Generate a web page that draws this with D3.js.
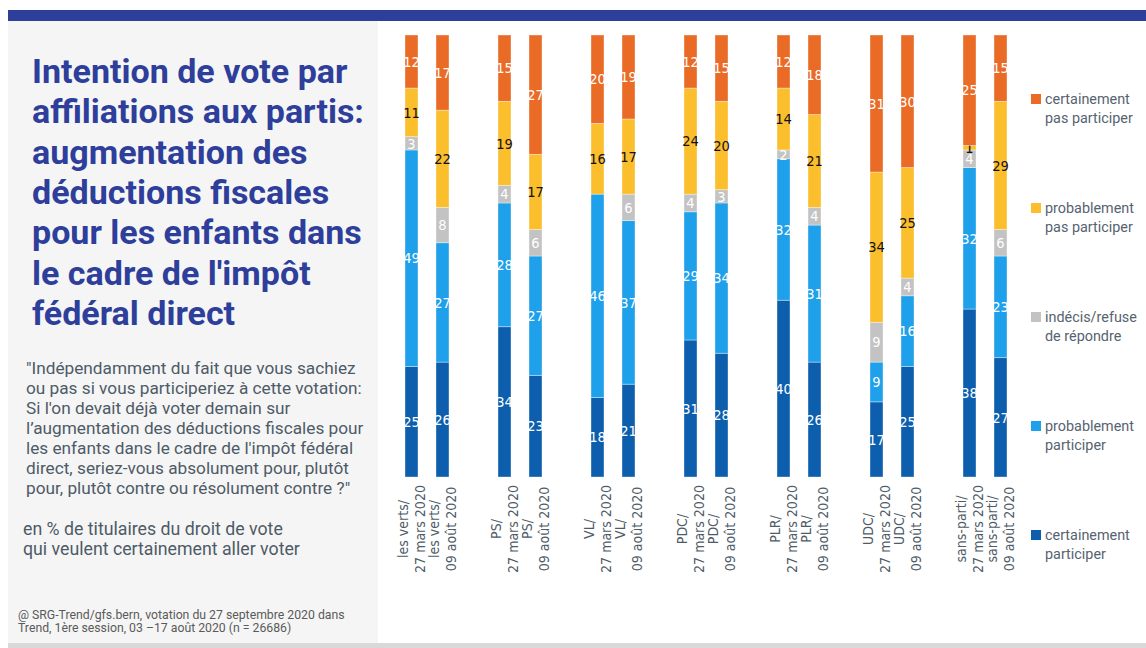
<!DOCTYPE html>
<html lang="fr">
<head>
<meta charset="utf-8">
<script src="https://cdn.jsdelivr.net/npm/d3@7"></script>
<style>
  html, body { margin: 0; padding: 0; background: #ffffff; }
  svg { display: block; }
</style>
</head>
<body>
<svg id="chart" width="1146" height="648"></svg>
<script>
// Parties and survey waves
const parties = ["les verts", "PS", "VL", "PDC", "PLR", "UDC", "sans-parti"];
const waves = ["27 mars 2020", "09 août 2020"];

// Shares in %, ordered party by party, wave by wave
const certainementParticiper = [25, 26, 34, 23, 18, 21, 31, 28, 40, 26, 17, 25, 38, 27];
const probablementParticiper = [49, 27, 28, 27, 46, 37, 29, 34, 32, 31, 9, 16, 32, 23];
const indecis              = [3, 8, 4, 6, 0, 6, 4, 3, 2, 4, 9, 4, 4, 6];
const probablementPas      = [11, 22, 19, 17, 16, 17, 24, 20, 14, 21, 34, 25, 1, 29];
const certainementPas      = [12, 17, 15, 27, 20, 19, 12, 15, 12, 18, 31, 30, 25, 15];

// Series, bottom to top of each stack
const series = [
  { key: "cp",  label: ["certainement", "participer"],      color: "#0d5fae", text: "#ffffff", values: certainementParticiper },
  { key: "pp",  label: ["probablement", "participer"],      color: "#1ea0ea", text: "#ffffff", values: probablementParticiper },
  { key: "ind", label: ["indécis/refuse", "de répondre"],   color: "#c3c3c3", text: "#ffffff", values: indecis },
  { key: "ppp", label: ["probablement", "pas participer"],  color: "#fbbe2c", text: "#111111", values: probablementPas },
  { key: "cpp", label: ["certainement", "pas participer"],  color: "#e96b25", text: "#ffffff", values: certainementPas }
];

const titleLines = [
  "Intention de vote par",
  "affiliations aux partis:",
  "augmentation des",
  "déductions fiscales",
  "pour les enfants dans",
  "le cadre de l'impôt",
  "fédéral direct"
];
const questionLines = [
  "\"Indépendamment du fait que vous sachiez",
  "ou pas si vous participeriez à cette votation:",
  "Si l'on devait déjà voter demain sur",
  "l’augmentation des déductions fiscales pour",
  "les enfants dans le cadre de l'impôt fédéral",
  "direct, seriez-vous absolument pour, plutôt",
  "pour, plutôt contre ou résolument contre ?\""
];
const baseLines = [
  "en % de titulaires du droit de vote",
  "qui veulent certainement aller voter"
];
const sourceLines = [
  "@ SRG-Trend/gfs.bern, votation du 27 septembre 2020 dans",
  "Trend, 1ère session, 03 –17 août 2020 (n = 26686)"
];

// Build one row per bar
const rows = [];
parties.forEach((p, i) => {
  waves.forEach((w, j) => {
    const k = i * waves.length + j;
    const r = { party: p, wave: w };
    series.forEach(s => { r[s.key] = s.values[k]; });
    rows.push(r);
  });
});

const svg = d3.select("#chart");
const W = 1146, H = 648;
const BLUE = "#2e3e9b";
const SANS = "Roboto, 'Open Sans', 'Noto Sans', sans-serif";
const NARROW = "'Liberation Sans Narrow', 'DejaVu Sans Condensed', 'Liberation Sans', sans-serif";

// Multi-line text block; the font size is tuned so that one line spans a given width
function textBlock(lines, x, y, lineH, opts) {
  const t = svg.append("text")
    .attr("x", x).attr("y", y)
    .attr("font-family", opts.family).attr("font-weight", opts.weight || 400)
    .attr("font-size", opts.size).attr("fill", opts.fill);
  t.selectAll("tspan").data(lines).join("tspan")
    .attr("x", x).attr("dy", (d, i) => i === 0 ? 0 : lineH)
    .text(d => d);
  if (opts.fitLine != null) {
    const node = t.selectAll("tspan").nodes()[opts.fitLine];
    const len = node.getComputedTextLength();
    if (len > 0) t.attr("font-size", opts.size * opts.fitWidth / len);
  }
  return t;
}

// Frame: top band, side panel, bottom strip
svg.append("rect").attr("x", 8).attr("y", 10).attr("width", W - 8).attr("height", 11).attr("fill", BLUE);
svg.append("rect").attr("x", 8).attr("y", 21).attr("width", 370).attr("height", 622).attr("fill", "#f5f5f5");
svg.append("rect").attr("x", 8).attr("y", 643).attr("width", W - 8).attr("height", 5).attr("fill", "#d9d9d9");

// Title, question, base and source
textBlock(titleLines, 32, 83, 40.3, { family: SANS, weight: 700, size: 30, fill: BLUE, fitLine: 4, fitWidth: 330 });
textBlock(questionLines, 26, 374, 20, { family: SANS, size: 16, fill: "#4e5b67", fitLine: 1, fitWidth: 336 });
textBlock(baseLines, 23, 535, 20, { family: SANS, size: 16, fill: "#4e5b67", fitLine: 0, fitWidth: 260 });
textBlock(sourceLines, 18, 619, 12.5, { family: SANS, size: 11.5, fill: "#5a5a5a", fitLine: 0, fitWidth: 327 });

// Scales
const x0 = d3.scaleBand().domain(parties).range([405, 1007]).paddingInner(0.527).paddingOuter(0);
const x1 = d3.scaleBand().domain(waves).range([0, x0.bandwidth()]).paddingInner(0.581).paddingOuter(0);
const y = d3.scaleLinear().domain([0, 100]).range([477, 35]);

const stack = d3.stack().keys(series.map(s => s.key));
const stacked = stack(rows);

const plot = svg.append("g");
const layer = plot.selectAll("g.layer").data(stacked).join("g")
  .attr("class", "layer")
  .attr("fill", (d, i) => series[i].color);

layer.selectAll("rect").data(d => d.filter(p => p[1] - p[0] > 0)).join("rect")
  .attr("x", d => x0(d.data.party) + x1(d.data.wave))
  .attr("y", d => y(d[1]))
  .attr("width", x1.bandwidth())
  .attr("height", d => y(d[0]) - y(d[1]))
  .attr("stroke", "#ffffff").attr("stroke-opacity", 0.45).attr("stroke-width", 0.8);

// Value labels centred in each segment
layer.each(function (d, i) {
  d3.select(this).selectAll("text").data(d.filter(p => p[1] - p[0] > 0)).join("text")
    .attr("x", p => x0(p.data.party) + x1(p.data.wave) + x1.bandwidth() / 2)
    .attr("y", p => y((p[0] + p[1]) / 2))
    .attr("dy", "0.36em")
    .attr("text-anchor", "middle")
    .attr("font-family", NARROW).attr("font-size", 14.5)
    .attr("fill", series[i].text)
    .text(p => p[1] - p[0]);
});

// Category axis: one small axis per party, labels rotated in two lines
parties.forEach(p => {
  const g = svg.append("g")
    .attr("transform", `translate(${x0(p)},529)`)
    .call(d3.axisBottom(x1).tickSize(0).tickPadding(0).tickFormat(w => w));
  g.select(".domain").remove();
  g.selectAll(".tick text")
    .attr("transform", "rotate(-90)")
    .attr("text-anchor", "middle")
    .attr("y", 0).attr("dy", null)
    .attr("font-family", NARROW).attr("font-size", 14)
    .attr("fill", "#4e5b67")
    .each(function (w) {
      const t = d3.select(this);
      t.text(null);
      t.append("tspan").attr("x", 0).attr("dy", "-0.27em").text(p + "/");
      t.append("tspan").attr("x", 0).attr("dy", "1.25em").text(w);
    });
});

// Legend, top item is the top of the stack
const legendItems = series.slice().reverse();
const legend = svg.append("g").selectAll("g").data(legendItems).join("g")
  .attr("transform", (d, i) => `translate(1031,${94 + i * 109})`);
legend.append("rect").attr("width", 10).attr("height", 10).attr("fill", d => d.color);
const legendText = legend.append("text")
  .attr("x", 14).attr("y", 9.5)
  .attr("font-family", SANS).attr("font-size", 15)
  .attr("fill", "#56636f");
legendText.selectAll("tspan").data(d => d.label).join("tspan")
  .attr("x", 14).attr("dy", (d, i) => i === 0 ? 0 : 19)
  .text(d => d);
// Same size for every legend entry, set from the widest first line
const widest = legendText.filter(d => d.key === "ind").select("tspan").node().getComputedTextLength();
if (widest > 0) legendText.attr("font-size", 15 * 92 / widest);
</script>
</body>
</html>
